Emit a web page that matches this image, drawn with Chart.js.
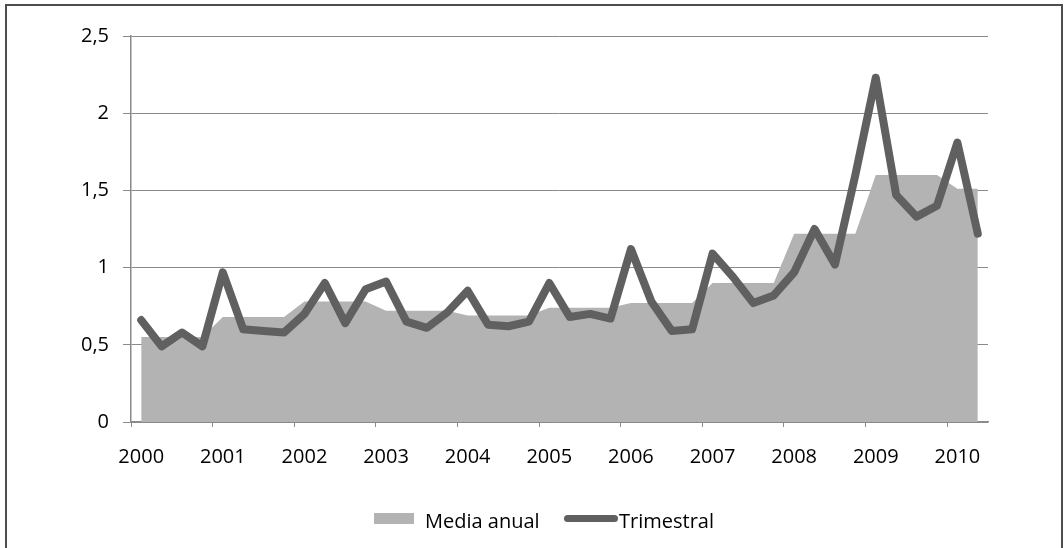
<!DOCTYPE html>
<html lang="es">
<head>
<meta charset="utf-8">
<title>Media anual y trimestral 2000-2010</title>
<script src="https://cdn.jsdelivr.net/npm/chart.js@4.4.1/dist/chart.umd.min.js"></script>
<style>
  html, body { margin: 0; padding: 0; background: #ffffff; }
  #wrap { position: relative; width: 1064px; height: 548px; overflow: hidden; background: #ffffff; }
  #frame { position: absolute; left: 5px; top: 4px; width: 1054px; height: 560px; border: 2px solid #4d4d4d; box-sizing: content-box; pointer-events: none; }
  canvas { position: absolute; left: 0; top: 0; }
  #legend { position: absolute; top: 509px; left: 0; width: 1064px; height: 24px; font-family: "Open Sans", sans-serif; font-size: 20px; color: #000; }
  .item { position: absolute; top: 0; height: 24px; line-height: 24px; white-space: nowrap; }
  .sw { position: absolute; }
</style>
</head>
<body>
<div id="wrap">
  <canvas id="chart" width="1064" height="548"></canvas>
  <div id="frame"></div>
  <div id="legend"></div>
</div>
<script>
// Años del eje horizontal y trimestres de cada año
const years = ['2000', '2001', '2002', '2003', '2004', '2005', '2006', '2007', '2008', '2009', '2010'];
const quarters = ['T1', 'T2', 'T3', 'T4'];

// Etiquetas del eje vertical
const yTickLabels = { 0: '0', 0.5: '0,5', 1: '1', 1.5: '1,5', 2: '2', 2.5: '2,5' };

// Serie trimestral (2000 T1 – 2010 T2)
const trimestral = [
  0.66, 0.49, 0.58, 0.49,
  0.97, 0.60, 0.59, 0.58,
  0.70, 0.90, 0.64, 0.86,
  0.91, 0.65, 0.61, 0.71,
  0.85, 0.63, 0.62, 0.65,
  0.90, 0.68, 0.70, 0.67,
  1.12, 0.78, 0.59, 0.60,
  1.09, 0.94, 0.77, 0.82,
  0.97, 1.25, 1.02, 1.60,
  2.23, 1.47, 1.33, 1.40,
  1.81, 1.22
];

// Media anual, repetida en cada trimestre del año
const mediaAnual = [
  0.55, 0.55, 0.55, 0.55,
  0.68, 0.68, 0.68, 0.68,
  0.78, 0.78, 0.78, 0.78,
  0.72, 0.72, 0.72, 0.72,
  0.69, 0.69, 0.69, 0.69,
  0.74, 0.74, 0.74, 0.74,
  0.77, 0.77, 0.77, 0.77,
  0.90, 0.90, 0.90, 0.90,
  1.22, 1.22, 1.22, 1.22,
  1.60, 1.60, 1.60, 1.60,
  1.51, 1.51
];

// Una categoría por trimestre: "2000 T1", "2000 T2", ...
const categories = [];
years.forEach(y => quarters.forEach(q => categories.push(y + ' ' + q)));
categories.length = trimestral.length;

const AXIS_GRAY = '#8a8a8a';
const AREA_GRAY = '#b3b3b3';
const LINE_GRAY = '#606060';
const FONT = '"Open Sans", sans-serif';

Chart.defaults.font.family = FONT;
Chart.defaults.font.size = 20;
Chart.defaults.color = '#000000';

const chart = new Chart(document.getElementById('chart'), {
  type: 'line',
  data: {
    labels: categories,
    datasets: [
      {
        label: 'Trimestral',
        data: trimestral,
        borderColor: LINE_GRAY,
        backgroundColor: LINE_GRAY,
        borderWidth: 8,
        borderJoinStyle: 'round',
        borderCapStyle: 'round',
        pointRadius: 0,
        pointHoverRadius: 0,
        tension: 0,
        fill: false,
        order: 0
      },
      {
        label: 'Media anual',
        data: mediaAnual,
        borderColor: AREA_GRAY,
        backgroundColor: AREA_GRAY,
        borderWidth: 0,
        pointRadius: 0,
        pointHoverRadius: 0,
        tension: 0,
        fill: 'origin',
        order: 1
      }
    ]
  },
  options: {
    responsive: false,
    animation: false,
    events: [],
    layout: { padding: { left: 0, top: 36, right: 76, bottom: 76 } },
    plugins: {
      legend: { display: false },
      tooltip: { enabled: false }
    },
    scales: {
      x: {
        type: 'category',
        offset: true,
        grid: {
          offset: true,
          drawOnChartArea: false,
          tickLength: 5,
          lineWidth: 1,
          color: ctx => (ctx.index % 4 === 0 ? AXIS_GRAY : 'rgba(0,0,0,0)'),
          tickColor: ctx => (ctx.index % 4 === 0 ? AXIS_GRAY : 'rgba(0,0,0,0)')
        },
        border: { display: true, color: AXIS_GRAY, width: 1.5 },
        ticks: {
          autoSkip: false,
          maxRotation: 0,
          minRotation: 0,
          padding: 18,
          callback: function (value) {
            const label = this.getLabelForValue(value);
            return label.endsWith('T1') ? label.split(' ')[0] : '';
          }
        },
        afterFit: scale => { scale.height = 50; }
      },
      y: {
        min: 0,
        max: 2.5,
        grid: {
          color: AXIS_GRAY,
          lineWidth: 1,
          tickLength: 8,
          tickColor: AXIS_GRAY
        },
        border: { display: true, color: AXIS_GRAY, width: 1.5 },
        ticks: {
          stepSize: 0.5,
          padding: 14,
          callback: value => yTickLabels[value] ?? ''
        },
        afterFit: scale => { scale.width = 131; }
      }
    }
  }
});

// Leyenda bajo el gráfico, construida a partir de las series
const legend = document.getElementById('legend');
const legendItems = [
  { ds: chart.data.datasets[1], x: 374, kind: 'area' },
  { ds: chart.data.datasets[0], x: 564, kind: 'line' }
];
legendItems.forEach(it => {
  const el = document.createElement('div');
  el.className = 'item';
  el.style.left = it.x + 'px';
  const sw = document.createElement('span');
  sw.className = 'sw';
  if (it.kind === 'area') {
    sw.style.cssText = 'left:0;top:4px;width:40px;height:11px;background:' + it.ds.backgroundColor + ';';
    el.style.paddingLeft = '51px';
  } else {
    sw.style.cssText = 'left:0;top:6px;width:54px;height:7px;border-radius:4px;background:' + it.ds.borderColor + ';';
    el.style.paddingLeft = '55px';
  }
  el.appendChild(sw);
  el.appendChild(document.createTextNode(it.ds.label));
  legend.appendChild(el);
});
</script>
</body>
</html>
